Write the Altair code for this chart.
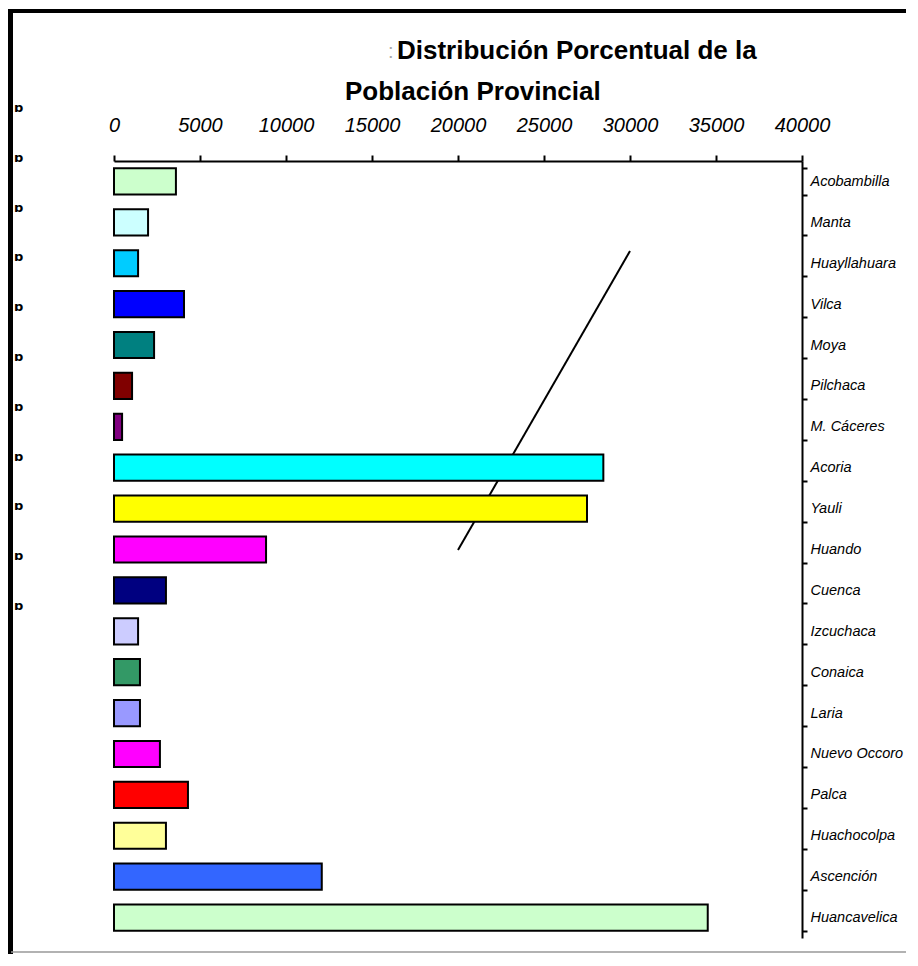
import altair as alt
import pandas as pd

categories = ["Acobambilla", "Manta", "Huayllahuara", "Vilca", "Moya", "Pilchaca",
              "M. Cáceres", "Acoria", "Yauli", "Huando", "Cuenca", "Izcuchaca",
              "Conaica", "Laria", "Nuevo Occoro", "Palca", "Huachocolpa",
              "Ascención", "Huancavelica"]
poblacion = [3600, 1980, 1400, 4070, 2330, 1050, 470, 28450, 27500, 8840, 3020,
             1400, 1510, 1510, 2670, 4300, 3020, 12080, 34520]
bar_colors = ["#CCFFCC", "#CCFFFF", "#00CCFF", "#0000FF", "#008080", "#800000",
              "#800080", "#00FFFF", "#FFFF00", "#FF00FF", "#000080", "#CCCCFF",
              "#339966", "#9999FF", "#FF00FF", "#FF0000", "#FFFF99", "#3366FF",
              "#CCFFCC"]
x_ticks = [0, 5000, 10000, 15000, 20000, 25000, 30000, 35000, 40000]
title_lines = ["Distribución Porcentual de la", "Población Provincial"]
stray_line = [20000, 30000]
edge_marks = list(range(11))

W, H = 688, 777

df = pd.DataFrame({"cat": categories, "v": poblacion})

bars = alt.Chart(df).mark_bar(stroke="black", strokeWidth=2).encode(
    y=alt.Y("cat:N", sort=categories,
            scale=alt.Scale(paddingInner=0.36, paddingOuter=0.18),
            axis=alt.Axis(orient="right", title=None, tickBand="extent",
                          domainColor="black", domainWidth=2, tickColor="black",
                          tickWidth=2, tickSize=5, labelPadding=3,
                          labelFont="Liberation Sans", labelFontStyle="italic",
                          labelFontSize=14.5, labelColor="black")),
    x=alt.X("v:Q", scale=alt.Scale(domain=[0, 40000], nice=False),
            axis=alt.Axis(orient="top", values=x_ticks, format="d", title=None,
                          grid=False, domainColor="black", domainWidth=2,
                          tickColor="black", tickWidth=2, tickSize=6,
                          labelPadding=20, labelFont="Liberation Sans",
                          labelFontStyle="italic", labelFontSize=20,
                          labelColor="black", labelOverlap=False,
                          labelFlush=False)),
    color=alt.Color("cat:N", scale=alt.Scale(domain=categories, range=bar_colors),
                    legend=None),
)

line_df = pd.DataFrame({"a": [stray_line[0]], "b": [stray_line[1]]})
stray = alt.Chart(line_df).mark_rule(color="black", strokeWidth=2).encode(
    x="a:Q", x2="b:Q", y=alt.value(389), y2=alt.value(90)
)

one = pd.DataFrame({"t": [title_lines[0]]})
two = pd.DataFrame({"t": [title_lines[1]]})
colon = pd.DataFrame({"t": [":"]})
title_font = dict(font="Liberation Sans", fontWeight="bold", fontSize=26,
                  color="black", align="left", baseline="alphabetic")
t1 = alt.Chart(one).mark_text(**title_font).encode(
    text="t:N", x=alt.value(283), y=alt.value(-102))
t2 = alt.Chart(two).mark_text(**title_font).encode(
    text="t:N", x=alt.value(231), y=alt.value(-61))
t0 = alt.Chart(colon).mark_text(font="Liberation Sans", fontSize=20, color="#aaaaaa",
                                align="left", baseline="alphabetic").encode(
    text="t:N", x=alt.value(274), y=alt.value(-103))

frame_df = pd.DataFrame({"k": [0]})
frame_top = alt.Chart(frame_df).mark_rule(color="black", strokeWidth=4).encode(
    x=alt.value(-106), x2=alt.value(792), y=alt.value(-150))
frame_left = alt.Chart(frame_df).mark_rule(color="black", strokeWidth=5).encode(
    x=alt.value(-103.5), y=alt.value(-152), y2=alt.value(793))
frame_bottom = alt.Chart(frame_df).mark_rule(color="#999999", strokeWidth=1.5).encode(
    x=alt.value(-103), x2=alt.value(792), y=alt.value(791))

edge_df = pd.DataFrame({"k": edge_marks})
edges = alt.Chart(edge_df).mark_text(text="ɒ", font="DejaVu Sans", fontSize=13,
                                     fontWeight="bold", color="black",
                                     align="left", baseline="middle").encode(
    x=alt.value(-100),
    y=alt.Y("k:Q", scale=alt.Scale(domain=[0, 10], range=[-53, 445]), axis=None),
)

chart = alt.layer(
    frame_top, frame_left, frame_bottom, t0, t1, t2, stray, bars, edges
).resolve_scale(y="independent").properties(
    width=W, height=H,
    autosize=alt.AutoSizeParams(type="none"),
    padding={"left": 106, "top": 153, "right": 104, "bottom": 16},
    background="white",
).configure_view(stroke=None)

chart.save("out.html", embed_options={"renderer": "svg", "actions": False})
